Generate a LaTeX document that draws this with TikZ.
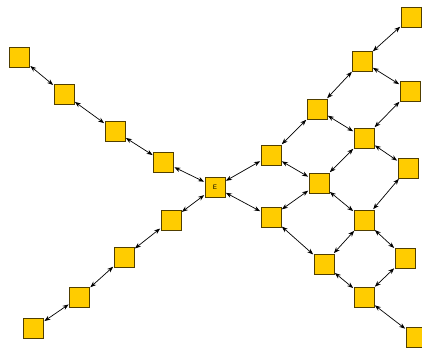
\documentclass[tikz,border=0pt]{standalone}
\usetikzlibrary{arrows.meta}
\definecolor{boxfill}{RGB}{255,204,0}
\definecolor{boxdraw}{RGB}{80,62,0}
\begin{document}
\begin{tikzpicture}[x=1pt,y=-1pt,
  sq/.style={draw=boxdraw,fill=boxfill,line width=0.9pt,minimum size=20pt,inner sep=0pt,font=\sffamily\fontsize{6.5}{7}\selectfont},
  lk/.style={{Stealth[length=6pt,width=4.5pt]}-{Stealth[length=6pt,width=4.5pt]},line width=0.7pt,shorten <=0.5pt,shorten >=0.5pt}]
\path[use as bounding box] (0,0) rectangle (422,348);
\node[sq] (E) at (215,187) {E};
\node[sq] (a1) at (19.5,57) {};
\node[sq] (a2) at (64,94) {};
\node[sq] (a3) at (115,131) {};
\node[sq] (a4) at (163.5,162) {};
\node[sq] (b1) at (171,220) {};
\node[sq] (b2) at (124,257) {};
\node[sq] (b3) at (79.5,297) {};
\node[sq] (b4) at (33.5,328.5) {};
\node[sq] (r1) at (271,155) {};
\node[sq] (r2) at (271,217) {};
\node[sq] (s1) at (317,109) {};
\node[sq] (s2) at (319,183) {};
\node[sq] (s3) at (324,264) {};
\node[sq] (t1) at (362,61) {};
\node[sq] (t2) at (364,138) {};
\node[sq] (t3) at (364,220) {};
\node[sq] (t4) at (364,297) {};
\node[sq] (u1) at (411,17) {};
\node[sq] (u2) at (410,91) {};
\node[sq] (u3) at (408,168) {};
\node[sq] (u4) at (405,258) {};
\node[sq] (u5) at (416,337) {};
\foreach \p/\q in {a1/a2,a2/a3,a3/a4,a4/E,E/b1,b1/b2,b2/b3,b3/b4,
  E/r1,E/r2,r1/s1,r1/s2,r2/s2,r2/s3,s1/t1,s1/t2,s2/t2,s2/t3,s3/t3,s3/t4,
  t1/u1,t1/u2,t2/u2,t2/u3,t3/u3,t3/u4,t4/u4,t4/u5}
  \draw[lk] (\p) -- (\q);
\end{tikzpicture}
\end{document}
